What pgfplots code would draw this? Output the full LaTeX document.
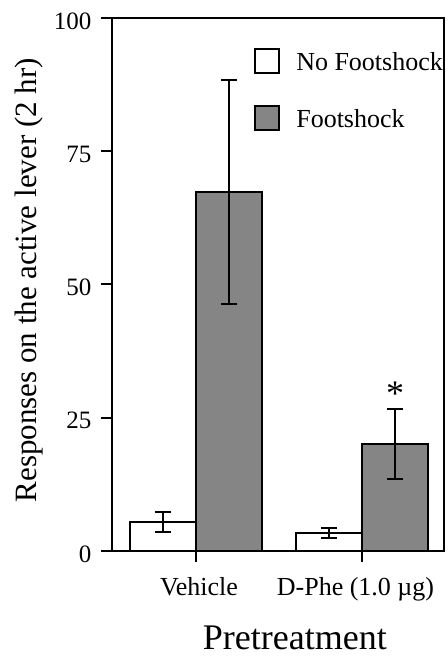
\documentclass[border=0pt]{standalone}
\usepackage{fontspec}
\setmainfont{Liberation Serif}
\usepackage{pgfplots}
\pgfplotsset{compat=1.18}
\definecolor{shockgray}{gray}{0.52}
\begin{document}
\begin{tikzpicture}
\begin{axis}[
  name=ax, clip=false,
  scale only axis, width=332pt, height=533pt,
  xmin=-0.506, xmax=1.494, ymin=0, ymax=100,
  axis line style={line width=2pt},
  ytick={0,25,50,75,100},
  xtick={0,1}, xticklabels={\hspace*{6pt}Vehicle, \hspace*{-13pt}D-Phe (1.0 µg)},
  tick align=outside, major tick length=11pt,
  tick style={line width=2pt, black},
  xtick pos=bottom, ytick pos=left,
  /pgf/number format/assume math mode=true,
  yticklabel style={font=\fontsize{25}{28}\selectfont, xshift=-6pt, yshift=-3pt},
  xticklabel style={font=\fontsize{26}{28}\selectfont, yshift=-12pt},
  ylabel={Responses on the active lever (2 hr)},
  ylabel style={font=\fontsize{31}{34}\selectfont, at={(axis description cs:-0.25,0.508)}, anchor=center},
  xlabel={Pretreatment},
  xlabel style={font=\fontsize{36}{40}\selectfont, at={(axis description cs:0.551,-0.1857)}, anchor=base},
  legend style={at={(0.428,0.944)}, anchor=north west, draw=none, fill=none,
    font=\fontsize{26}{30}\selectfont, inner sep=0pt, row sep=31pt,
    /tikz/every odd column/.append style={column sep=14pt}},
  legend cell align=left,
  legend image code/.code={\draw[#1, line width=2pt] (0pt,-11pt) rectangle (24pt,13pt);},
]
\addplot[ybar, bar width=0.4, bar shift=0, fill=white, draw=black, line width=2pt,
  error bars/.cd, y dir=both, y explicit,
  error bar style={line width=2pt, black},
  error mark options={rotate=90, mark size=8pt, line width=2pt, black}]
  coordinates {(-0.2,5.5) +- (0,1.9) (0.8,3.4) +- (0,1.0)};
\addlegendentry{No Footshock}
\addplot[ybar, bar width=0.4, bar shift=0, fill=shockgray, draw=black, line width=2pt,
  error bars/.cd, y dir=both, y explicit,
  error bar style={line width=2pt, black},
  error mark options={rotate=90, mark size=8pt, line width=2pt, black}]
  coordinates {(0.2,67.3) +- (0,21.0) (1.2,20.1) +- (0,6.6)};
\addlegendentry{Footshock}
\node[font=\fontsize{36}{36}\selectfont] at (axis cs:1.2,29.6) {*};
\end{axis}
\pgfresetboundingbox
\path ([xshift=-112pt,yshift=-107pt]ax.south west) rectangle ([xshift=4pt,yshift=18pt]ax.north east);
\end{tikzpicture}
\end{document}
